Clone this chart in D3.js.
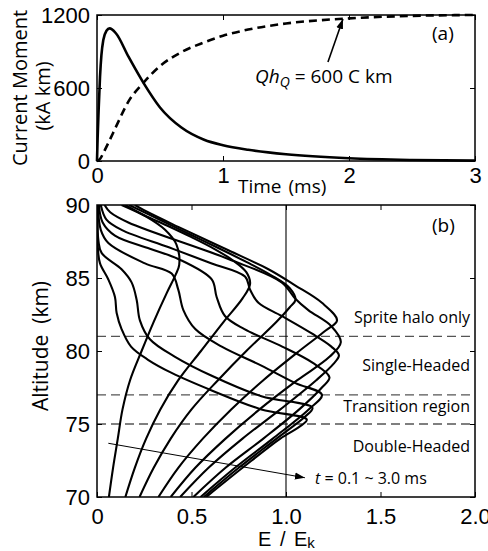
<!DOCTYPE html>
<html>
<head>
<meta charset="utf-8">
<script src="https://cdn.jsdelivr.net/npm/d3@7"></script>
<style>
  body { margin: 0; background: #fff; }
  svg text { font-family: "Liberation Sans", Arial, sans-serif; fill: #000; }
  .hum { font-family: "Open Sans", sans-serif; }
</style>
</head>
<body>
<div id="chart"></div>
<script>
// panel (a): current moment and charge moment (x2) vs time
const timeCurrent = [0, 0.005, 0.013, 0.024, 0.035, 0.05, 0.075, 0.1, 0.15, 0.25, 0.37, 0.5, 0.67, 0.85, 1.0, 1.2, 1.5, 2.0, 2.5, 3.0];
const currentMoment = [0, 190, 419, 693, 870, 994, 1070, 1090, 1050, 857, 640, 440, 275, 175, 130, 92, 55, 22, 8, 3];
const timeCharge = [0, 0.025, 0.05, 0.1, 0.15, 0.25, 0.37, 0.5, 0.67, 0.85, 1.0, 1.2, 1.5, 2.0, 2.5, 3.0];
const chargeMoment = [0, 18, 65, 170, 280, 490, 645, 780, 895, 975, 1030, 1080, 1130, 1172, 1193, 1200];
const timeTicks = [0, 1, 2, 3];
const momentTicks = [0, 600, 1200];

// panel (b): E/Ek profiles [altitude km, E/Ek], t = 0.1 ... 3.0 ms
const prof1 = [[70,.063],[72,.085],[74,.11],[76,.135],[78,.175],[80,.236],[82,.30],[84,.37],[85.2,.415],[85.9,.435],
  [87.3,.42],[88.3,.36],[89.2,.26],[90,.13]];
const prof2 = [[70,.15],[72,.2],[74,.26],[76,.335],[78,.43],[80,.55],[82,.67],[83.6,.77],[84.6,.81],
  [85.4,.79],[86.2,.72],[87,.62],[87.8,.5],[88.6,.37],[89.3,.25],[90,.15]];
const prof3 = [[70,.225],[72,.3],[74,.39],[76,.5],[78,.64],[80,.79],[82,.95],[83,1.02],[83.5,1.05],
  [84.3,1.02],[85.2,.92],[86.1,.79],[87,.65],[88,.49],[89,.33],[90,.17]];
const prof4 = [[70,.325],[72,.43],[74,.56],[76,.71],[78,.88],[80,1.07],[81.4,1.21],[82.1,1.27],
  [83.3,1.19],[84.5,1.048],[85.6,.907],[86.9,.695],[88.5,.43],[89.5,.27],[90,.2]];
const prof5 = [[70,.39],[72,.52],[74,.68],[76,.86],[78,1.06],[79.6,1.23],[80.6,1.29],
  [81.7,1.24],[82.8,1.118],[83.6,1.048],[84.7,.977],[86.3,.695],[88.8,.166],[89.5,.07],[90,.04]];
const prof6 = [[70,.44],[72,.59],[74,.77],[76,.97],[78,1.16],[79.1,1.25],[79.7,1.28],
  [80.3,1.24],[81.2,1.136],[82.4,.977],[83.3,.854],[84.2,.81],[85.1,.783],[86,.607],[87.1,.38],[88.3,.13],[89,.05],[90,.02]];
const prof7 = [[70,.51],[72,.68],[74,.88],[76,1.07],[77.5,1.19],[78.2,1.23],
  [79.2,1.14],[80.3,.98],[81.5,.78],[82.4,.677],[83.7,.633],[84.9,.607],[86.3,.43],[87,.28],[87.9,.095],[88.8,.03],[90,.01]];
const prof8 = [[70,.548],[72,.73],[74,.93],[76,1.12],[77,1.19],
  [77.8,1.05],[79,.87],[80.3,.66],[81.5,.52],[82.8,.457],[84.2,.43],[85.3,.395],[86,.254],[87.4,.06],[88.3,.02],[90,.005]];
const prof9 = [[70,.565],[72,.75],[74,.95],[75.5,1.1],[76.1,1.14],
  [76.9,.87],[78.3,.607],[79.6,.413],[80.8,.28],[82.1,.227],[83.5,.21],[84.7,.183],[85.6,.13],[86.7,.025],[87.5,.008],[90,.003]];
const prof10 = [[70,.578],[72,.77],[74,.97],[74.8,1.07],[75.3,1.11],
  [76,.87],[77.3,.607],[78.5,.395],[79.4,.27],[80.3,.18],[81.5,.13],[82.6,.104],[83.7,.095],[84.9,.06],[86,.016],[87,.005],[90,.002]];
const profiles = [prof1, prof2, prof3, prof4, prof5, prof6, prof7, prof8, prof9, prof10];
const regionAltitudes = [81, 77, 75];
const regionLabels = ["Sprite halo only", "Single-Headed", "Transition region", "Double-Headed"];
const regionLabelAlt = [81.9, 78.6, 75.8, 73.1];
const fieldTicks = [0, 0.5, 1.0, 1.5, 2.0];
const altTicks = [70, 75, 80, 85, 90];

const W = 488, H = 551;
const svg = d3.select("#chart").append("svg")
  .attr("width", W).attr("height", H);

const defs = svg.append("defs");
defs.append("marker")
  .attr("id", "head").attr("viewBox", "0 0 10 10")
  .attr("refX", 10).attr("refY", 5)
  .attr("markerWidth", 10).attr("markerHeight", 10)
  .attr("markerUnits", "userSpaceOnUse")
  .attr("orient", "auto")
  .append("path").attr("d", "M0,1.5 L10,5 L0,8.5 Z").attr("fill", "#000");

// ---------- panel (a)
const xa = d3.scaleLinear().domain([0, 3]).range([97, 475]);
const ya = d3.scaleLinear().domain([0, 1200]).range([161, 15]);

const ga = svg.append("g");

ga.append("path")
  .datum(d3.zip(timeCharge, chargeMoment))
  .attr("fill", "none").attr("stroke", "#000").attr("stroke-width", 2.6)
  .attr("stroke-dasharray", "8,5")
  .attr("d", d3.line().x(d => xa(d[0])).y(d => ya(d[1])).curve(d3.curveMonotoneX));

ga.append("path")
  .datum(d3.zip(timeCurrent, currentMoment))
  .attr("fill", "none").attr("stroke", "#000").attr("stroke-width", 2.6)
  .attr("d", d3.line().x(d => xa(d[0])).y(d => ya(d[1])).curve(d3.curveMonotoneX));

function frame(g, x, y, xt, yt, xfmt, xpad) {
  const [x0, x1] = x.range(), [y0, y1] = y.range();
  const bottom = g.append("g").attr("transform", `translate(0,${y0})`)
    .call(d3.axisBottom(x).tickValues(xt).tickFormat(xfmt).tickSize(-5).tickPadding(xpad));
  g.append("g").attr("transform", `translate(0,${y1})`)
    .call(d3.axisTop(x).tickValues(xt).tickSize(-5))
    .call(s => s.selectAll("text").remove());
  g.append("g").attr("transform", `translate(${x0},0)`)
    .call(d3.axisLeft(y).tickValues(yt).tickFormat(d3.format("d")).tickSize(-5).tickPadding(7));
  g.append("g").attr("transform", `translate(${x1},0)`)
    .call(d3.axisRight(y).tickValues(yt).tickSize(-5))
    .call(s => s.selectAll("text").remove());
  g.selectAll(".domain").remove();
  g.selectAll(".tick line").attr("stroke", "#000").attr("stroke-width", 1);
  g.selectAll(".tick text").attr("font-size", 22).attr("font-family", "'Liberation Sans', Arial, sans-serif");
  g.append("rect").attr("x", x0).attr("y", y1).attr("width", x1 - x0).attr("height", y0 - y1)
    .attr("fill", "none").attr("stroke", "#000").attr("stroke-width", 1.5);
  return bottom;
}
frame(ga, xa, ya, timeTicks, momentTicks, d3.format("d"), 6);

ga.append("text").attr("class", "hum").attr("font-size", 19)
  .attr("x", 238).attr("y", 193).attr("word-spacing", 2).text("Time (ms)");
ga.append("text").attr("class", "hum").attr("font-size", 20)
  .attr("transform", "translate(27,88) rotate(-90)").attr("text-anchor", "middle").text("Current Moment");
ga.append("text").attr("class", "hum").attr("font-size", 20)
  .attr("transform", "translate(50,96) rotate(-90)").attr("text-anchor", "middle").text("(kA km)");
ga.append("text").attr("class", "hum").attr("font-size", 19)
  .attr("x", 432).attr("y", 40).text("(a)");

ga.append("line")
  .attr("x1", xa(1.833)).attr("y1", ya(814)).attr("x2", xa(1.952)).attr("y2", ya(1168))
  .attr("stroke", "#000").attr("stroke-width", 1.6).attr("marker-end", "url(#head)");
const qt = ga.append("text").attr("class", "hum").attr("font-size", 19).attr("x", 255).attr("y", 83);
qt.append("tspan").attr("font-style", "italic").text("Qh");
qt.append("tspan").attr("font-style", "italic").attr("font-size", 14).attr("dy", 4).text("Q");
qt.append("tspan").attr("dy", -4).text(" = 600 C km");

// ---------- panel (b)
const xb = d3.scaleLinear().domain([0, 2]).range([97, 475]);
const yb = d3.scaleLinear().domain([70, 90]).range([497, 205]);
const gb = svg.append("g");

gb.selectAll(".region")
  .data(regionAltitudes).enter().append("line")
  .attr("x1", xb(0)).attr("x2", xb(2))
  .attr("y1", d => yb(d)).attr("y2", d => yb(d))
  .attr("stroke", "#555").attr("stroke-width", 1.3).attr("stroke-dasharray", "9,5");

gb.append("line")
  .attr("x1", xb(1)).attr("x2", xb(1)).attr("y1", yb(70)).attr("y2", yb(90))
  .attr("stroke", "#000").attr("stroke-width", 1.1);

defs.append("clipPath").attr("id", "clipb")
  .append("rect").attr("x", xb(0)).attr("y", yb(90)).attr("width", xb(2) - xb(0)).attr("height", yb(70) - yb(90));
const profLine = d3.line().x(d => xb(d[1])).y(d => yb(d[0])).curve(d3.curveCatmullRom.alpha(0.5));
gb.append("g")
  .attr("clip-path", "url(#clipb)")
  .selectAll(".prof")
  .data(profiles).enter().append("path")
  .attr("fill", "none").attr("stroke", "#000").attr("stroke-width", 2.1)
  .attr("d", profLine);

const xbAxis = frame(gb, xb, yb, fieldTicks, altTicks, d3.format(".1f"), 11);
xbAxis.selectAll(".tick text").filter(d => d === 0).text("0");

gb.selectAll(".reg")
  .data(regionLabels).enter().append("text")
  .attr("class", "hum").attr("font-size", 16).attr("text-anchor", "end")
  .attr("x", 470).attr("y", (d, i) => yb(regionLabelAlt[i]))
  .text(d => d);

gb.append("text").attr("class", "hum").attr("font-size", 19)
  .attr("x", 432).attr("y", 232).text("(b)");

gb.append("line")
  .attr("x1", xb(0.06)).attr("y1", yb(73.68)).attr("x2", xb(1.10)).attr("y2", yb(71.32))
  .attr("stroke", "#000").attr("stroke-width", 1).attr("marker-end", "url(#head)");
const tt = gb.append("text").attr("class", "hum").attr("font-size", 16).attr("x", 315).attr("y", 484);
tt.append("tspan").attr("font-style", "italic").text("t");
tt.append("tspan").text(" = 0.1 ~ 3.0 ms");

gb.append("text").attr("class", "hum").attr("font-size", 21)
  .attr("transform", "translate(48,346) rotate(-90)").attr("text-anchor", "middle")
  .attr("xml:space", "preserve").text("Altitude  (km)");

const et = gb.append("text").attr("font-size", 20).attr("x", 258).attr("y", 546).attr("word-spacing", 3);
et.append("tspan").text("E / E");
et.append("tspan").attr("font-size", 15).attr("dy", 2).text("k");
</script>
</body>
</html>
